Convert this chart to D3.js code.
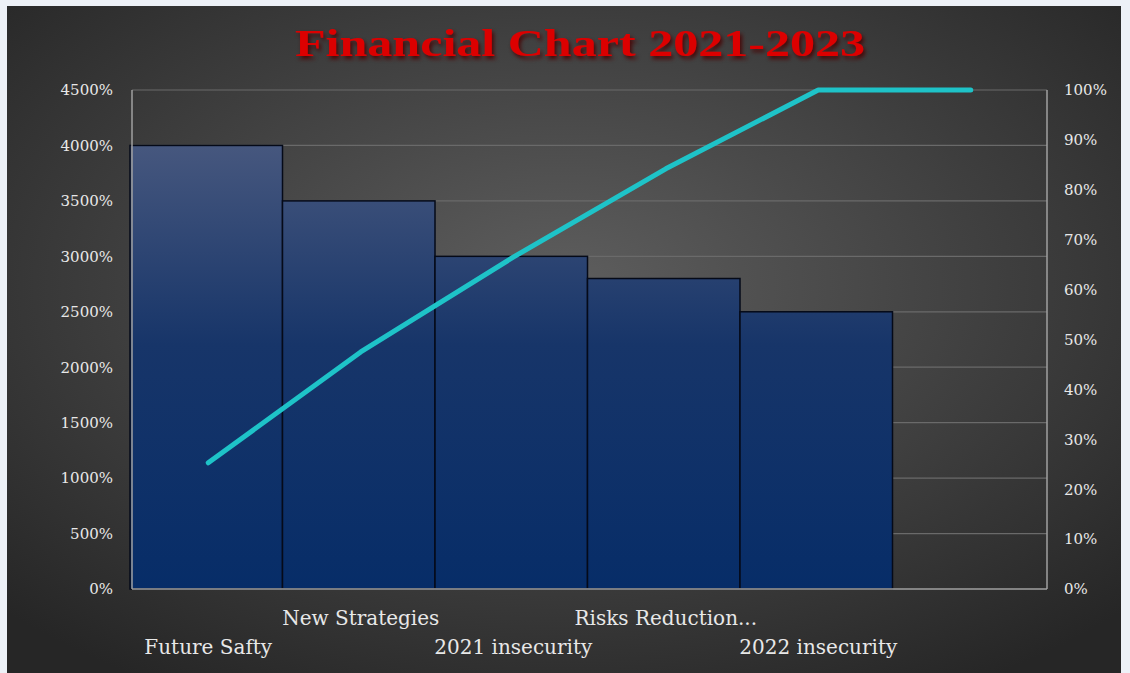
<!doctype html>
<html>
<head>
  <meta charset='utf-8'>
  <style>
    body { margin: 0; background: #edf1f7; }
    .tick text { fill: #e8e8e8; font-family: 'DejaVu Serif', Georgia, serif; }
  </style>
</head>
<body>
  <svg width='1130' height='673'></svg>
  <script src='https://d3js.org/d3.v7.min.js'></script>
  <script>
    var categories = ['Future Safty', 'New Strategies', '2021 insecurity',
                      'Risks Reduction...', '2022 insecurity', ''];
    var values = [4000, 3500, 3000, 2800, 2500, 0];
    var cumulative = [25.3, 47.5, 66.5, 84.2, 100, 100];
    var leftTicks = [0, 500, 1000, 1500, 2000, 2500, 3000, 3500, 4000, 4500];
    var rightTicks = [0, 10, 20, 30, 40, 50, 60, 70, 80, 90, 100];

    var svg = d3.select('svg');
    var margin = {top: 90, right: 83, bottom: 84, left: 132};
    var width = 1130 - margin.left - margin.right;
    var height = 673 - margin.top - margin.bottom;

    var x = d3.scaleBand().domain(d3.range(categories.length))
      .range([0, width]).padding(0);
    var y = d3.scaleLinear().domain([0, 4500]).range([height, 0]);
    var y2 = d3.scaleLinear().domain([0, 100]).range([height, 0]);

    var defs = svg.append('defs');
    var bg = defs.append('radialGradient').attr('id', 'bg')
      .attr('cx', '50%').attr('cy', '42%').attr('r', '70%');
    bg.append('stop').attr('offset', '0%').attr('stop-color', '#5e5e5e');
    bg.append('stop').attr('offset', '100%').attr('stop-color', '#262626');

    // one gradient over the whole plot height, so lower bars start darker
    var barGrad = defs.append('linearGradient').attr('id', 'bar')
      .attr('gradientUnits', 'userSpaceOnUse')
      .attr('x1', 0).attr('y1', y(4000)).attr('x2', 0).attr('y2', height);
    barGrad.append('stop').attr('offset', '0%').attr('stop-color', '#46577e');
    barGrad.append('stop').attr('offset', '45%').attr('stop-color', '#173569');
    barGrad.append('stop').attr('offset', '100%').attr('stop-color', '#072d68');

    var shadow = defs.append('filter').attr('id', 'shadow')
      .attr('x', '-10%').attr('y', '-30%').attr('width', '120%').attr('height', '160%');
    shadow.append('feDropShadow').attr('dx', 2).attr('dy', 3)
      .attr('stdDeviation', 2).attr('flood-color', '#4a0000').attr('flood-opacity', 0.9);

    svg.append('rect')
      .attr('x', 7).attr('y', 6).attr('width', 1114).attr('height', 667)
      .attr('fill', 'url(#bg)');

    svg.append('text')
      .attr('x', 580).attr('y', 56)
      .attr('text-anchor', 'middle')
      .attr('textLength', 570).attr('lengthAdjust', 'spacingAndGlyphs')
      .attr('font-family', "Georgia, 'Liberation Serif', serif")
      .attr('font-weight', 'bold').attr('font-size', 37)
      .attr('fill', '#dc0000')
      .attr('filter', 'url(#shadow)')
      .text('Financial Chart 2021-2023');

    var g = svg.append('g')
      .attr('transform', 'translate(' + margin.left + ',' + margin.top + ')');

    // gridlines
    g.append('g').selectAll('line')
      .data(leftTicks.slice(1))
      .enter().append('line')
      .attr('x1', 0).attr('x2', width)
      .attr('y1', function(d) { return y(d); })
      .attr('y2', function(d) { return y(d); })
      .attr('stroke', '#6a6a6a').attr('stroke-width', 1.2);

    g.append('g').selectAll('rect')
      .data(values)
      .enter().append('rect')
      .attr('x', function(d, i) { return x(i) - 2; })
      .attr('y', function(d) { return y(d); })
      .attr('width', x.bandwidth())
      .attr('height', function(d) { return height - y(d); })
      .attr('fill', 'url(#bar)')
      .attr('stroke', '#050a18').attr('stroke-width', 1.5)
      .style('display', function(d) { return d > 0 ? null : 'none'; });

    // axis frame lines
    g.append('line').attr('x1', 0).attr('x2', 0).attr('y1', 0).attr('y2', height)
      .attr('stroke', '#a0a0a0').attr('stroke-width', 1.5);
    g.append('line').attr('x1', width).attr('x2', width).attr('y1', 0).attr('y2', height)
      .attr('stroke', '#a0a0a0').attr('stroke-width', 1.5);
    g.append('line').attr('x1', 0).attr('x2', width).attr('y1', height).attr('y2', height)
      .attr('stroke', '#a0a0a0').attr('stroke-width', 1.5);

    var line = d3.line()
      .x(function(d, i) { return x(i) + x.bandwidth() / 2; })
      .y(function(d) { return y2(d); });

    g.append('path')
      .datum(cumulative)
      .attr('d', line)
      .attr('fill', 'none')
      .attr('stroke', '#1ec3c8')
      .attr('stroke-width', 5)
      .attr('stroke-linecap', 'round')
      .attr('stroke-linejoin', 'round');

    var leftAxis = g.append('g')
      .call(d3.axisLeft(y).tickValues(leftTicks).tickSize(0).tickPadding(19)
        .tickFormat(function(d) { return d + '%'; }));
    leftAxis.select('.domain').remove();
    leftAxis.selectAll('text').attr('font-size', 15);

    var rightAxis = g.append('g')
      .attr('transform', 'translate(' + width + ',0)')
      .call(d3.axisRight(y2).tickValues(rightTicks).tickSize(0).tickPadding(17)
        .tickFormat(function(d) { return d + '%'; }));
    rightAxis.select('.domain').remove();
    rightAxis.selectAll('text').attr('font-size', 15);

    var xAxis = g.append('g')
      .attr('transform', 'translate(0,' + height + ')')
      .call(d3.axisBottom(x).tickSize(0)
        .tickFormat(function(i) { return categories[i]; }));
    xAxis.select('.domain').remove();
    xAxis.selectAll('text')
      .attr('font-size', 20)
      .attr('y', function(i) { return i % 2 === 0 ? 51 : 22; })
      .attr('dy', '0.71em');
  </script>
</body>
</html>
